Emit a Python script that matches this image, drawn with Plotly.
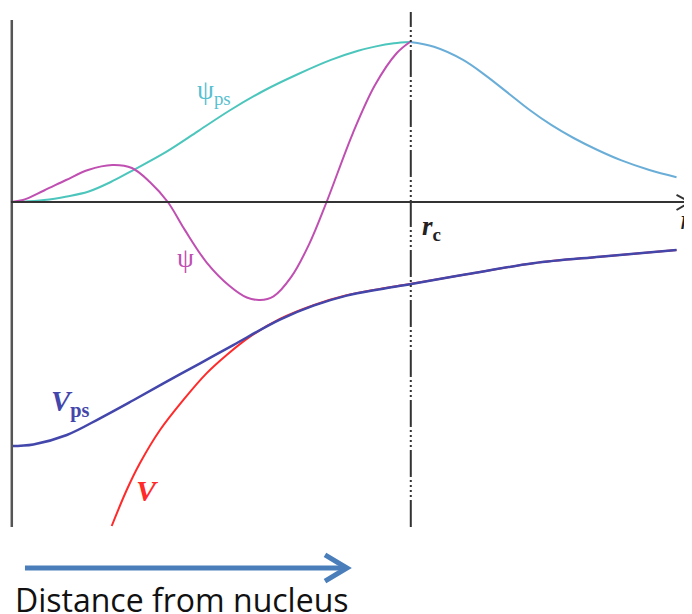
"""Pseudopotential sketch: all-electron vs pseudo wavefunction and potential."""

import plotly.graph_objects as go

# r in units of the cutoff radius r_c; values in arbitrary units (psi_ps peak = 1)
R_PSI_PS = [0.0, 0.028, 0.083, 0.14, 0.193, 0.25, 0.303, 0.39, 0.47, 0.55, 0.637, 0.72,
            0.802, 0.87, 0.912, 0.96, 1.0, 1.06, 1.133, 1.19, 1.244, 1.3, 1.355, 1.41,
            1.47, 1.53, 1.6, 1.668]
PSI_PS = [0.0, 0.002, 0.0125, 0.035, 0.064, 0.125, 0.195, 0.315, 0.445, 0.575, 0.7, 0.8,
          0.888, 0.945, 0.971, 0.992, 1.0, 0.97, 0.888, 0.79, 0.685, 0.575, 0.48, 0.4,
          0.325, 0.26, 0.2, 0.155]

R_PSI = [0.0, 0.03, 0.083, 0.138, 0.193, 0.254, 0.303, 0.348, 0.393, 0.436, 0.491, 0.548,
         0.591, 0.624, 0.658, 0.702, 0.747, 0.791, 0.857, 0.912, 0.967, 1.0]
PSI = [0.0, 0.012, 0.072, 0.1375, 0.2, 0.231, 0.2125, 0.125, 0.0, -0.176, -0.38, -0.525,
       -0.597, -0.6125, -0.59, -0.47, -0.265, 0.0, 0.431, 0.729, 0.931, 1.0]

R_VPS = [0.0, 0.056, 0.14, 0.223, 0.3065, 0.39, 0.474, 0.557, 0.674, 0.758, 0.841, 0.925,
         1.0, 1.142, 1.309, 1.476, 1.668]
VPS = [-1.525, -1.515, -1.456, -1.352, -1.239, -1.123, -1.008, -0.894, -0.735, -0.648,
       -0.585, -0.545, -0.514, -0.452, -0.383, -0.342, -0.3]

R_V = [0.2524, 0.29, 0.323, 0.3735, 0.432, 0.49, 0.5406, 0.6, 0.674, 0.758, 0.841, 0.925,
       1.0, 1.142, 1.309, 1.476, 1.668]
V = [-2.025, -1.8, -1.633, -1.425, -1.237, -1.071, -0.956, -0.84, -0.731, -0.645,
     -0.583, -0.543, -0.513, -0.452, -0.383, -0.342, -0.3]

RC = 1.0
# the page body adds an 8px margin, so the figure covers the window from (8, 8)
X_RANGE = [-0.0075, 1.7068]
Y_RANGE = [-2.575, 1.2125]

TEAL = "#4cc6bc"
SKY = "#6aaed8"
MAGENTA = "#c04fb2"
RED = "#ff2a2a"
INDIGO = "#4346ab"
ARROW_BLUE = "#4a7ebb"
SERIF = "Liberation Serif"

fig = go.Figure()

# psi_ps: teal inside r_c, light blue outside
inside = [i for i, r in enumerate(R_PSI_PS) if r <= RC]
outside = [i for i, r in enumerate(R_PSI_PS) if r >= RC]
fig.add_trace(go.Scatter(x=[R_PSI_PS[i] for i in inside], y=[PSI_PS[i] for i in inside],
                         mode="lines", line=dict(color=TEAL, width=2, shape="spline")))
fig.add_trace(go.Scatter(x=[R_PSI_PS[i] for i in outside], y=[PSI_PS[i] for i in outside],
                         mode="lines", line=dict(color=SKY, width=2, shape="spline")))
fig.add_trace(go.Scatter(x=R_PSI, y=PSI, mode="lines",
                         line=dict(color=MAGENTA, width=2, shape="spline")))
fig.add_trace(go.Scatter(x=R_V, y=V, mode="lines",
                         line=dict(color=RED, width=2, shape="spline")))
fig.add_trace(go.Scatter(x=R_VPS, y=VPS, mode="lines",
                         line=dict(color=INDIGO, width=2.5, shape="spline")))

# axes drawn by hand, like the sketch
fig.add_shape(type="line", x0=0.002, x1=0.002, y0=-2.031, y1=1.1375,
              line=dict(color="#555", width=2.5))
fig.add_shape(type="line", x0=0, x1=1.70, y0=0, y1=0, line=dict(color="#333", width=2))
fig.add_shape(type="path", path="M 1.668,0.044 L 1.702,0 L 1.668,-0.05",
              line=dict(color="#333", width=2))
fig.add_shape(type="line", x0=RC + 0.002, x1=RC + 0.002, y0=-2.031, y1=1.1875,
              line=dict(color="#333", width=2,
                        dash="27px,3px,2px,3px,2px,3px,2px,3px,2px,3px"))

# labels
fig.add_annotation(x=0.51, y=0.69, text="ψ<sub>ps</sub>", showarrow=False,
                   font=dict(family=SERIF, size=27, color="#58bfd0"))
fig.add_annotation(x=0.4386, y=-0.35, text="ψ", showarrow=False,
                   font=dict(family=SERIF, size=27, color=MAGENTA))
fig.add_annotation(x=0.341, y=-1.806, text="<b><i>V</i></b>", showarrow=False,
                   font=dict(family=SERIF, size=30, color=RED))
fig.add_annotation(x=0.15, y=-1.26, text="<b><i>V</i></b><sub><b>ps</b></sub>",
                   showarrow=False, font=dict(family=SERIF, size=29, color=INDIGO))
fig.add_annotation(x=1.69, y=-0.11, text="<i>r</i>", showarrow=False,
                   font=dict(family=SERIF, size=28, color="#222"))
fig.add_annotation(x=1.055, y=-0.16, text="<b><i>r</i></b><sub><b>c</b></sub>",
                   showarrow=False, font=dict(family=SERIF, size=27, color="#222"))

# "distance" arrow and caption under the plot
fig.add_shape(type="line", x0=0.035, x1=0.835, y0=-2.2875, y1=-2.2875,
              line=dict(color=ARROW_BLUE, width=5))
fig.add_shape(type="path", path="M 0.787,-2.206 L 0.842,-2.2875 L 0.787,-2.369",
              line=dict(color=ARROW_BLUE, width=5))
fig.add_annotation(x=5 / 684, y=-9 / 606, xref="paper", yref="paper", xanchor="left",
                   yanchor="bottom", text="Distance from nucleus", showarrow=False,
                   font=dict(family="Open Sans", size=32, color="#111"))

fig.update_layout(
    width=684,
    height=606,
    margin=dict(l=0, r=0, t=0, b=0),
    paper_bgcolor="white",
    plot_bgcolor="white",
    showlegend=False,
    xaxis=dict(range=X_RANGE, visible=False),
    yaxis=dict(range=Y_RANGE, visible=False),
)

fig.write_html("out.html")
